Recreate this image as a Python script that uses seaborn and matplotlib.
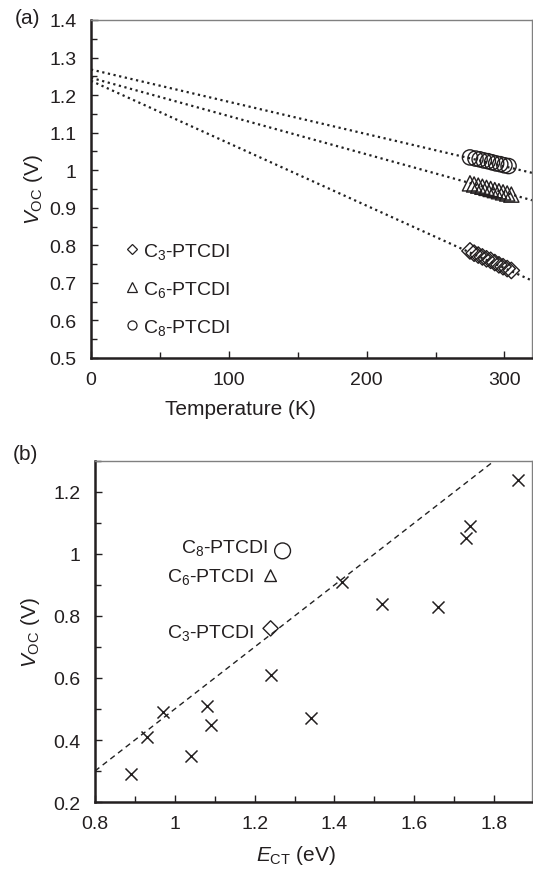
import numpy as np
import pandas as pd
import matplotlib
matplotlib.use("Agg")
import matplotlib.pyplot as plt
from matplotlib.lines import Line2D
from matplotlib.ticker import MultipleLocator, FuncFormatter
import seaborn as sns

# ---------------- data: panel (a) ----------------
T_c8 = [275, 279, 282, 285, 288, 291, 294, 297, 300, 303]
V_c8 = [1.034, 1.031, 1.029, 1.026, 1.024, 1.021, 1.018, 1.016, 1.013, 1.011]
T_c6 = [275, 278, 281, 284, 287, 290, 293, 296, 299, 302, 305]
V_c6 = [0.965, 0.962, 0.959, 0.956, 0.953, 0.950, 0.947, 0.944, 0.941, 0.938, 0.935]
T_c3 = [275, 278, 281, 284, 287, 290, 293, 296, 299, 302, 305]
V_c3 = [0.785, 0.779, 0.774, 0.769, 0.764, 0.760, 0.754, 0.748, 0.743, 0.738, 0.733]

fit_T = [0, 320]
fit_c8 = [1.268, 0.993]
fit_c6 = [1.246, 0.920]
fit_c3 = [1.238, 0.706]

series_labels = ["C$_3$-PTCDI", "C$_6$-PTCDI", "C$_8$-PTCDI"]

# ---------------- data: panel (b) ----------------
E_ct = [0.89, 0.93, 0.97, 1.04, 1.08, 1.09, 1.24, 1.34, 1.42, 1.52, 1.66, 1.73, 1.74, 1.86]
V_oc = [0.29, 0.41, 0.49, 0.35, 0.51, 0.45, 0.61, 0.47, 0.91, 0.84, 0.83, 1.05, 1.09, 1.24]

ptcdi_E = [1.24, 1.24, 1.27]
ptcdi_V = [0.76, 0.93, 1.01]

diag_x = [0.8, 1.8]
diag_y = [0.3, 1.3]

# ---------------- style ----------------
sns.set_theme(style="ticks")
plt.rcParams["font.family"] = ["Liberation Sans", "DejaVu Sans"]
plt.rcParams["mathtext.fontset"] = "custom"
plt.rcParams["mathtext.rm"] = "Liberation Sans"
plt.rcParams["mathtext.it"] = "Liberation Sans:italic"
plt.rcParams["mathtext.bf"] = "Liberation Sans:bold"

TICK_FS = 14
LAB_FS = 15
ANN_FS = 14
TXT = "#231f20"
fmt = FuncFormatter(lambda v, p: "%g" % round(v, 3))

fig = plt.figure(figsize=(5.33, 8.70), dpi=100)
ax1 = fig.add_axes([0.1707, 0.5874, 0.8274, 0.3885])
ax2 = fig.add_axes([0.1782, 0.0770, 0.8200, 0.3920])


def style_axes(ax):
    for s in ["left", "bottom"]:
        ax.spines[s].set_color(TXT)
        ax.spines[s].set_linewidth(1.8)
    for s in ["top", "right"]:
        ax.spines[s].set_color("#808080")
        ax.spines[s].set_linewidth(1.0)
        ax.spines[s].set_visible(True)
    ax.tick_params(which="both", direction="in", top=False, right=False,
                   color=TXT, width=1.0, labelsize=TICK_FS, labelcolor=TXT)
    ax.tick_params(which="major", length=5)
    ax.tick_params(which="minor", length=4)
    ax.tick_params(axis="x", which="major", pad=9.5)
    ax.tick_params(axis="y", which="major", pad=10.5)
    ax.xaxis.set_major_formatter(fmt)
    ax.yaxis.set_major_formatter(fmt)
    ax.grid(False)


# ---------------- panel (a) ----------------
line_kw = dict(color="#222222", linewidth=1.6, linestyle=(0, (1, 1.6)))
sns.lineplot(x=fit_T, y=fit_c8, ax=ax1, **line_kw)
sns.lineplot(x=fit_T, y=fit_c6, ax=ax1, **line_kw)
sns.lineplot(x=fit_T, y=fit_c3, ax=ax1, **line_kw)

mk_kw = dict(facecolors="none", edgecolor=TXT, linewidth=1.0, zorder=3)
sns.scatterplot(x=T_c8, y=V_c8, marker="o", s=120, ax=ax1, **mk_kw)
sns.scatterplot(x=T_c6, y=V_c6, marker="^", s=120, ax=ax1, **mk_kw)
sns.scatterplot(x=T_c3, y=V_c3, marker="D", s=70, ax=ax1, **mk_kw)

ax1.set_xlim(0, 320)
ax1.set_ylim(0.5, 1.4)
ax1.xaxis.set_major_locator(MultipleLocator(100))
ax1.xaxis.set_minor_locator(MultipleLocator(50))
ax1.yaxis.set_major_locator(MultipleLocator(0.1))
ax1.yaxis.set_minor_locator(MultipleLocator(0.05))
style_axes(ax1)
ax1.set_xlabel("Temperature (K)", fontsize=LAB_FS, color=TXT, labelpad=6)
ax1.xaxis.set_label_coords(0.34, -0.12)
ax1.set_ylabel(r"$V_{\mathrm{OC}}$ (V)", fontsize=LAB_FS, color=TXT, labelpad=3)

handles = [
    Line2D([], [], marker="D", markersize=5, markerfacecolor="none",
           markeredgecolor=TXT, linestyle="none", markeredgewidth=0.9),
    Line2D([], [], marker="^", markersize=6.5, markerfacecolor="none",
           markeredgecolor=TXT, linestyle="none", markeredgewidth=0.9),
    Line2D([], [], marker="o", markersize=6.5, markerfacecolor="none",
           markeredgecolor=TXT, linestyle="none", markeredgewidth=0.9),
]
leg = ax1.legend(handles, series_labels, loc="upper left",
                 bbox_to_anchor=(114 / 533, 1 - 228 / 870), bbox_transform=fig.transFigure,
                 frameon=False, fontsize=ANN_FS, handlelength=0.4, handletextpad=0.4,
                 labelspacing=0.93, borderpad=0.2)
for t in leg.get_texts():
    t.set_color(TXT)

fig.text(15 / 533, 1 - 18 / 870, "(a)", fontsize=LAB_FS, color=TXT, va="center", ha="left")

# ---------------- panel (b) ----------------
sns.lineplot(x=diag_x, y=diag_y, ax=ax2, color="#222222", linewidth=1.0,
             linestyle=(0, (4, 3)))
sns.scatterplot(x=E_ct, y=V_oc, marker="x", s=75, color=TXT, linewidth=1.1, ax=ax2, zorder=3)

sns.scatterplot(x=[ptcdi_E[0]], y=[ptcdi_V[0]], marker="D", s=60, ax=ax2, **mk_kw)
sns.scatterplot(x=[ptcdi_E[1]], y=[ptcdi_V[1]], marker="^", s=70, ax=ax2, **mk_kw)
sns.scatterplot(x=[ptcdi_E[2]], y=[ptcdi_V[2]], marker="o", s=130, ax=ax2, **mk_kw)

label_dx = [-0.04, -0.04, -0.036]
label_dy = [-0.012, 0.0, 0.012]
for e, v, lab, dx, dy in zip(ptcdi_E, ptcdi_V, series_labels, label_dx, label_dy):
    ax2.text(e + dx, v + dy, lab, ha="right", va="center", fontsize=ANN_FS, color=TXT)

ax2.set_xlim(0.8, 1.895)
ax2.set_ylim(0.2, 1.3)
ax2.xaxis.set_major_locator(MultipleLocator(0.2))
ax2.xaxis.set_minor_locator(MultipleLocator(0.1))
ax2.yaxis.set_major_locator(MultipleLocator(0.2))
ax2.yaxis.set_minor_locator(MultipleLocator(0.1))
style_axes(ax2)
ax2.set_xlabel(r"$E_{\mathrm{CT}}$ (eV)", fontsize=LAB_FS, color=TXT, labelpad=7)
ax2.xaxis.set_label_coords(0.46, -0.12)
ax2.set_ylabel(r"$V_{\mathrm{OC}}$ (V)", fontsize=LAB_FS, color=TXT, labelpad=8)

fig.text(13 / 533, 1 - 455 / 870, "(b)", fontsize=LAB_FS, color=TXT, va="center", ha="left")

fig.savefig("out.png", dpi=100, facecolor="white")
